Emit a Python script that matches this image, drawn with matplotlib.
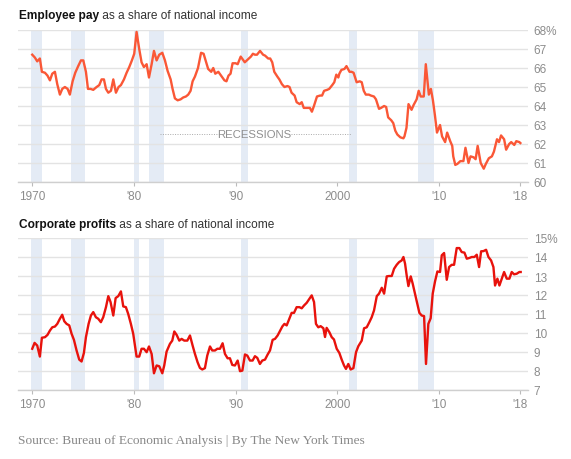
import matplotlib
matplotlib.use('Agg')
import matplotlib.pyplot as plt
from matplotlib.ticker import FixedLocator, FuncFormatter

# Employee pay as a share of national income (%)
pay_years = [1970.00, 1970.26, 1970.49, 1970.75, 1970.95, 1971.25, 1971.50, 1971.74, 1971.97, 1972.23,
             1972.46, 1972.72, 1972.95, 1973.21, 1973.48, 1973.70, 1973.97, 1974.23, 1974.52, 1974.79,
             1975.02, 1975.28, 1975.48, 1975.74, 1976.00, 1976.33, 1976.59, 1976.82, 1977.05, 1977.25,
             1977.48, 1977.74, 1977.97, 1978.23, 1978.49, 1978.72, 1979.02, 1979.28, 1979.54, 1979.80,
             1980.03, 1980.26, 1980.52, 1980.75, 1980.98, 1981.25, 1981.48, 1981.74, 1981.97, 1982.23,
             1982.49, 1982.79, 1983.05, 1983.31, 1983.61, 1983.80, 1984.03, 1984.30, 1984.59, 1984.85,
             1985.11, 1985.34, 1985.57, 1985.77, 1986.00, 1986.30, 1986.60, 1986.85, 1987.30, 1987.60,
             1987.80, 1988.00, 1988.30, 1988.50, 1988.90, 1989.10, 1989.30, 1989.50, 1989.70, 1990.00,
             1990.20, 1990.50, 1990.70, 1990.90, 1991.20, 1991.50, 1991.70, 1991.90, 1992.10, 1992.40,
             1992.70, 1992.90, 1993.20, 1993.40, 1993.60, 1993.80, 1994.10, 1994.30, 1994.55, 1994.80,
             1995.10, 1995.30, 1995.50, 1995.80, 1996.00, 1996.30, 1996.50, 1996.70, 1996.90, 1997.30,
             1997.50, 1997.70, 1998.00, 1998.30, 1998.50, 1998.70, 1999.00, 1999.20, 1999.50, 1999.70,
             1999.90, 2000.10, 2000.20, 2000.40, 2000.70, 2000.90, 2001.20, 2001.40, 2001.60, 2001.90,
             2002.20, 2002.40, 2002.60, 2002.80, 2003.10, 2003.30, 2003.60, 2003.80, 2004.10, 2004.30,
             2004.60, 2004.80, 2005.00, 2005.30, 2005.50, 2005.70, 2005.90, 2006.20, 2006.50, 2006.60,
             2006.80, 2007.00, 2007.30, 2007.50, 2007.80, 2008.00, 2008.20, 2008.50, 2008.70, 2009.00,
             2009.20, 2009.40, 2009.60, 2009.80, 2010.10, 2010.30, 2010.60, 2010.80, 2011.10, 2011.30,
             2011.40, 2011.60, 2011.80, 2012.10, 2012.40, 2012.60, 2012.90, 2013.10, 2013.40, 2013.60,
             2013.80, 2014.10, 2014.40, 2014.60, 2014.90, 2015.20, 2015.40, 2015.70, 2015.90, 2016.10,
             2016.40, 2016.60, 2016.90, 2017.10, 2017.40, 2017.60, 2017.90, 2018.00]
pay_share = [66.7, 66.55, 66.35, 66.5, 65.8, 65.75, 65.6, 65.35, 65.7, 65.8,
             65.15, 64.6, 64.9, 65.0, 64.9, 64.6, 65.3, 65.75, 66.1, 66.4,
             66.4, 65.8, 64.9, 64.9, 64.85, 65.0, 65.1, 65.4, 65.4, 64.9,
             64.7, 64.8, 65.4, 64.7, 65.0, 65.1, 65.4, 65.75, 66.05, 66.4,
             66.75, 67.9, 67.0, 66.3, 66.05, 66.2, 65.5, 66.2, 66.9, 66.4,
             66.7, 66.8, 66.4, 65.85, 65.4, 64.9, 64.4, 64.3, 64.35, 64.45,
             64.5, 64.6, 64.8, 65.3, 65.55, 66.0, 66.8, 66.75, 65.95, 65.8,
             66.0, 65.7, 65.8, 65.65, 65.35, 65.3, 65.6, 65.7, 66.25, 66.25,
             66.2, 66.6, 66.45, 66.3, 66.45, 66.6, 66.75, 66.7, 66.7, 66.9,
             66.7, 66.65, 66.5, 66.5, 66.3, 65.8, 65.55, 65.4, 65.15, 65.0,
             65.05, 65.0, 64.7, 64.55, 64.2, 64.1, 64.2, 63.9, 63.9, 63.9,
             63.7, 64.0, 64.5, 64.55, 64.55, 64.8, 64.85, 64.9, 65.1, 65.25,
             65.65, 65.5, 65.7, 65.9, 65.95, 66.1, 65.8, 65.8, 65.75, 65.25,
             65.3, 65.25, 64.8, 64.6, 64.6, 64.55, 64.5, 64.35, 63.85, 63.9,
             64.0, 63.95, 63.4, 63.25, 63.1, 62.7, 62.5, 62.35, 62.3, 62.4,
             62.85, 64.1, 63.8, 64.05, 64.35, 64.8, 64.5, 64.5, 66.2, 64.6,
             64.9, 64.3, 63.5, 62.6, 63.0, 62.4, 62.1, 62.6, 62.15, 61.9,
             61.35, 60.9, 60.95, 61.1, 61.1, 61.8, 61.0, 61.35, 61.3, 61.2,
             61.9, 61.0, 60.7, 60.95, 61.25, 61.35, 61.6, 62.25, 62.1, 62.45,
             62.25, 61.7, 62.0, 62.1, 61.95, 62.15, 62.1, 62.05]

# Corporate profits as a share of national income (%)
profit_years = [1970.00, 1970.23, 1970.49, 1970.75, 1970.95, 1971.25, 1971.50, 1971.74, 1971.97, 1972.23,
                1972.46, 1972.72, 1972.95, 1973.15, 1973.38, 1973.64, 1973.87, 1974.10, 1974.36, 1974.62,
                1974.85, 1975.08, 1975.28, 1975.54, 1975.77, 1976.00, 1976.26, 1976.49, 1976.75, 1976.98,
                1977.25, 1977.48, 1977.70, 1977.97, 1978.20, 1978.46, 1978.72, 1978.95, 1979.21, 1979.44,
                1979.70, 1979.93, 1980.10, 1980.26, 1980.52, 1980.75, 1980.98, 1981.25, 1981.48, 1981.74,
                1981.97, 1982.23, 1982.49, 1982.79, 1982.98, 1983.21, 1983.54, 1983.77, 1983.97, 1984.20,
                1984.46, 1984.69, 1984.95, 1985.25, 1985.51, 1985.77, 1986.00, 1986.26, 1986.49, 1986.72,
                1986.98, 1987.21, 1987.48, 1987.70, 1987.97, 1988.20, 1988.46, 1988.72, 1988.95, 1989.21,
                1989.44, 1989.67, 1989.93, 1990.20, 1990.43, 1990.66, 1990.92, 1991.15, 1991.41, 1991.67,
                1991.90, 1992.13, 1992.39, 1992.62, 1992.89, 1993.15, 1993.38, 1993.64, 1993.87, 1994.13,
                1994.36, 1994.60, 1994.80, 1995.02, 1995.28, 1995.51, 1995.74, 1996.00, 1996.27, 1996.50,
                1996.73, 1996.99, 1997.22, 1997.48, 1997.71, 1997.90, 1998.13, 1998.36, 1998.63, 1998.79,
                1998.95, 1999.22, 1999.45, 1999.67, 1999.94, 2000.20, 2000.43, 2000.66, 2000.85, 2001.08,
                2001.31, 2001.58, 2001.84, 2002.07, 2002.40, 2002.63, 2002.89, 2003.15, 2003.38, 2003.61,
                2003.88, 2004.10, 2004.37, 2004.60, 2004.86, 2005.09, 2005.35, 2005.58, 2005.84, 2006.07,
                2006.33, 2006.50, 2006.66, 2006.82, 2006.99, 2007.22, 2007.41, 2007.64, 2007.87, 2008.07,
                2008.30, 2008.53, 2008.72, 2008.95, 2009.18, 2009.38, 2009.61, 2009.84, 2010.10, 2010.27,
                2010.50, 2010.76, 2010.99, 2011.25, 2011.48, 2011.74, 2012.00, 2012.23, 2012.50, 2012.73,
                2012.99, 2013.22, 2013.48, 2013.71, 2013.94, 2014.14, 2014.37, 2014.63, 2014.86, 2015.12,
                2015.35, 2015.51, 2015.74, 2015.94, 2016.17, 2016.40, 2016.66, 2016.92, 2017.15, 2017.38,
                2017.64, 2017.90, 2018.03]
profit_share = [9.17, 9.48, 9.34, 8.76, 9.75, 9.78, 9.9, 10.13, 10.3, 10.34,
                10.48, 10.75, 10.96, 10.62, 10.48, 10.4, 9.96, 9.64, 9.08, 8.6,
                8.5, 8.95, 9.78, 10.48, 10.92, 11.1, 10.83, 10.75, 10.57, 10.83,
                11.36, 11.94, 11.63, 10.92, 11.84, 11.94, 12.19, 11.4, 11.36, 11.0,
                10.48, 9.96, 9.34, 8.76, 8.76, 9.17, 9.17, 8.99, 9.29, 8.9,
                7.88, 8.29, 8.25, 7.88, 8.29, 9.02, 9.43, 9.6, 10.08, 9.9,
                9.6, 9.69, 9.6, 9.6, 9.87, 9.34, 8.9, 8.46, 8.16, 8.08,
                8.15, 8.81, 9.29, 9.08, 9.08, 9.17, 9.17, 9.46, 8.9, 8.67,
                8.67, 8.32, 8.29, 8.55, 7.99, 8.02, 8.87, 8.81, 8.55, 8.55,
                8.78, 8.69, 8.37, 8.55, 8.6, 8.87, 9.08, 9.64, 9.69, 9.87,
                10.1, 10.35, 10.48, 10.4, 10.75, 11.06, 11.06, 11.36, 11.36, 11.3,
                11.45, 11.59, 11.77, 11.98, 11.63, 10.48, 10.3, 10.36, 10.25, 9.79,
                10.27, 10.04, 9.78, 9.66, 9.17, 8.95, 8.6, 8.29, 8.11, 8.37,
                8.08, 8.15, 8.99, 9.31, 9.6, 10.25, 10.3, 10.57, 10.83, 11.19,
                11.94, 12.07, 12.38, 12.07, 12.98, 13.0, 13.0, 13.38, 13.59, 13.73,
                13.82, 14.0, 13.65, 13.03, 12.47, 12.98, 12.6, 12.07, 11.54, 11.06,
                10.92, 10.89, 8.37, 10.48, 10.78, 12.07, 12.72, 13.24, 13.21, 14.09,
                14.21, 12.8, 13.47, 13.59, 13.59, 14.47, 14.47, 14.26, 14.23, 13.91,
                13.95, 14.0, 14.0, 14.12, 13.47, 14.3, 14.31, 14.38, 14.0, 13.82,
                13.47, 12.5, 12.86, 12.5, 12.86, 13.21, 12.86, 12.86, 13.21, 13.09,
                13.12, 13.21, 13.21]

# NBER recessions
recession_start = [1969.92, 1973.83, 1980.0, 1981.5, 1990.5, 2001.17, 2007.92]
recession_end = [1970.92, 1975.17, 1980.5, 1982.92, 1991.17, 2001.92, 2009.5]

tick_years = [1970, 1980, 1990, 2000, 2010, 2018]
tick_labels = ['1970', "'80", "'90", '2000', "'10", "'18"]

plt.rcParams['font.family'] = ['Liberation Sans', 'DejaVu Sans']

band_color = '#e4ebf5'
grid_color = '#e3e3e3'
tick_color = '#8c8c8c'

fig = plt.figure(figsize=(5.71, 4.60), dpi=100)
ax1 = fig.add_axes([18 / 571, 1 - 183 / 460, 510 / 571, 152 / 460])
ax2 = fig.add_axes([18 / 571, 1 - 391 / 460, 510 / 571, 152 / 460])


def style_axis(ax, lo, hi):
    ax.set_xlim(1968.6, 2018.75)
    ax.set_ylim(lo, hi)
    for s in ['top', 'left', 'right']:
        ax.spines[s].set_visible(False)
    ax.spines['bottom'].set_color('#cfcfcf')
    ax.spines['bottom'].set_linewidth(1.0)
    ax.set_axisbelow(True)
    # y labels on the right, % only on the top one
    ax.yaxis.set_major_locator(FixedLocator(range(lo, hi + 1)))
    ax.yaxis.set_major_formatter(FuncFormatter(lambda v, p: '%d%%' % v if v == hi else '%d' % v))
    ax.yaxis.tick_right()
    ax.tick_params(axis='y', length=0, pad=4, labelsize=8.5, labelcolor=tick_color)
    ax.grid(axis='y', color=grid_color, linewidth=1.0)
    ax.set_xticks(tick_years)
    ax.set_xticklabels(tick_labels)
    ax.tick_params(axis='x', length=3, width=0.8, color='#bbbbbb', pad=3,
                   labelsize=8.5, labelcolor=tick_color)
    for a, b in zip(recession_start, recession_end):
        ax.axvspan(a, b, color=band_color, linewidth=0, zorder=0.2)


style_axis(ax1, 60, 68)
style_axis(ax2, 7, 15)

ax1.plot(pay_years, pay_share, color='#fa5736', linewidth=1.7, zorder=3, solid_joinstyle='round')
ax2.plot(profit_years, profit_share, color='#e8120c', linewidth=1.7, zorder=3, solid_joinstyle='round')

# recessions label with dotted leaders
ax1.text(1991.8, 62.53, 'RECESSIONS', ha='center', va='center', fontsize=8.2, color='#8f8f8f')
ax1.plot([1982.6, 1988.4], [62.53, 62.53], linestyle=(0, (1, 1.5)), color='#aaaaaa', linewidth=0.7)
ax1.plot([1995.4, 2001.3], [62.53, 62.53], linestyle=(0, (1, 1.5)), color='#aaaaaa', linewidth=0.7)

# panel titles: bold lead-in followed by regular text
for y, lead, rest in [(1 - 19 / 460, 'Employee pay', ' as a share of national income'),
                      (1 - 228 / 460, 'Corporate profits', ' as a share of national income')]:
    t = fig.text(19 / 571, y, lead, fontsize=8.6, fontweight='bold', color='#121212', va='baseline')
    ax1.annotate(rest, xy=(1, 0), xycoords=t, va='bottom', fontsize=8.6, color='#333333',
                 annotation_clip=False)

fig.text(18 / 571, 1 - 444 / 460, 'Source: Bureau of Economic Analysis | By The New York Times',
         fontsize=9.6, color='#888888', family=['Liberation Serif', 'DejaVu Serif'], va='baseline')

fig.savefig('out.png', dpi=100)
